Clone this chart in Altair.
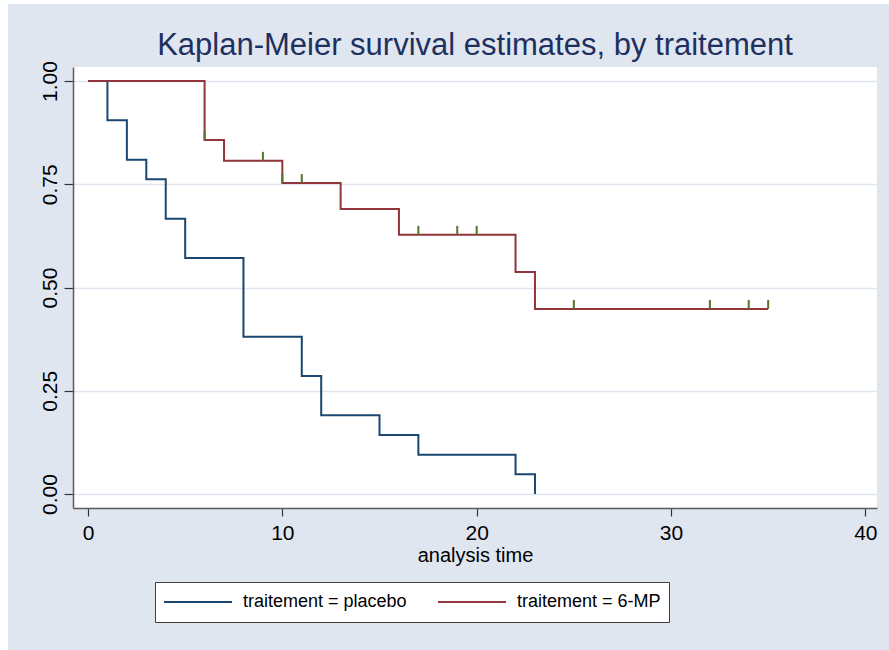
import altair as alt
import pandas as pd

# Kaplan-Meier step values
placebo_time = [0, 1, 2, 3, 4, 5, 8, 11, 12, 15, 17, 22, 23]
placebo_surv = [1.0, 0.9048, 0.8095, 0.7619, 0.6667, 0.5714, 0.3810, 0.2857, 0.1905, 0.1429, 0.0952, 0.0476, 0.0]

mp_time = [0, 6, 7, 10, 13, 16, 22, 23, 35]
mp_surv = [1.0, 0.8571, 0.8067, 0.7529, 0.6902, 0.6275, 0.5378, 0.4482, 0.4482]

# censored observations (6-MP group)
censor_time = [6, 9, 10, 11, 17, 19, 20, 25, 32, 34, 35]
censor_surv = [0.8571, 0.8067, 0.7529, 0.7529, 0.6275, 0.6275, 0.6275, 0.4482, 0.4482, 0.4482, 0.4482]

series_labels = ["traitement = placebo", "traitement = 6-MP"]
series_colors = ["#1A476F", "#90353B"]
x_ticks = [0, 10, 20, 30, 40]
y_ticks = [0, 0.25, 0.5, 0.75, 1.0]

BG = "#E0E6F0"
FONT = "Liberation Sans"

rows = []
for t, s in zip(placebo_time, placebo_surv):
    rows.append({"time": t, "surv": s, "grp": series_labels[0]})
for t, s in zip(mp_time, mp_surv):
    rows.append({"time": t, "surv": s, "grp": series_labels[1]})
lines_df = pd.DataFrame(rows)
censor_df = pd.DataFrame({"time": censor_time, "surv": censor_surv})

x_scale = alt.Scale(domain=[-0.772, 40.6], nice=False, zero=False)
y_scale = alt.Scale(domain=[-0.034, 1.034], nice=False, zero=False)

x_axis = alt.Axis(values=x_ticks, title="analysis time", grid=False,
                  labelFontSize=21, titleFontSize=20, titleFontWeight="normal",
                  labelPadding=6, titlePadding=2, tickSize=8, format="d")
y_axis = alt.Axis(values=y_ticks, format=".2f", title=None, grid=True,
                  gridColor="#DFE5EF", gridWidth=1.6,
                  labelAngle=270, labelAlign="center", labelBaseline="alphabetic",
                  labelPadding=8, tickSize=9, labelFontSize=21)

color = alt.Color(
    "grp:N",
    scale=alt.Scale(domain=series_labels, range=series_colors),
    legend=alt.Legend(
        orient="none", legendX=82, legendY=515, direction="horizontal",
        title=None, symbolType="stroke", symbolSize=4624, symbolStrokeWidth=2,
        clipHeight=24, labelFontSize=18, labelFont=FONT, labelColor="black",
        labelOffset=10, columnPadding=30, padding=8, columns=2,
        fillColor="white", strokeColor="#404040", labelLimit=400,
    ),
)

base = alt.Chart(lines_df).mark_line(interpolate="step-after", strokeWidth=2)

line_p = base.transform_filter(alt.datum.grp == series_labels[0]).encode(
    x=alt.X("time:Q", scale=x_scale, axis=x_axis),
    y=alt.Y("surv:Q", scale=y_scale, axis=y_axis),
    color=color,
)
line_m = base.transform_filter(alt.datum.grp == series_labels[1]).encode(
    x=alt.X("time:Q", scale=x_scale, axis=x_axis),
    y=alt.Y("surv:Q", scale=y_scale, axis=y_axis),
    color=color,
)

censor = alt.Chart(censor_df).mark_tick(
    orient="vertical", size=9, thickness=2, color="#55752F", yOffset=-4.5, opacity=1
).encode(
    x=alt.X("time:Q", scale=x_scale),
    y=alt.Y("surv:Q", scale=y_scale),
)

# white frame strips around the light background (decoration)
dummy = pd.DataFrame({"a": [0]})
strip_left = alt.Chart(dummy).mark_rect(color="white").encode(
    x=alt.value(-73), x2=alt.value(-65), y=alt.value(-67), y2=alt.value(583))
strip_top = alt.Chart(dummy).mark_rect(color="white").encode(
    x=alt.value(-73), x2=alt.value(816), y=alt.value(-67), y2=alt.value(-63))

chart = alt.layer(strip_left, strip_top, line_p, line_m, censor).properties(
    width=804,
    height=441,
    title=alt.TitleParams(
        text="Kaplan-Meier survival estimates, by traitement",
        fontSize=31, font=FONT, fontWeight="normal", color="#1E3060",
        anchor="middle", baseline="alphabetic", offset=-86, frame="group",
    ),
    padding={"left": 73, "top": 67, "right": 12, "bottom": 142},
    autosize=alt.AutoSizeParams(type="none"),
    background=BG,
).configure_view(
    fill="white", stroke=None
).configure_axis(
    labelFont=FONT, titleFont=FONT, labelColor="black", titleColor="black",
    domainColor="#5A5A5A", domainWidth=1.5, tickColor="#333333", tickWidth=1.2,
)

chart.save("out.html", embed_options={"renderer": "svg", "actions": False})
